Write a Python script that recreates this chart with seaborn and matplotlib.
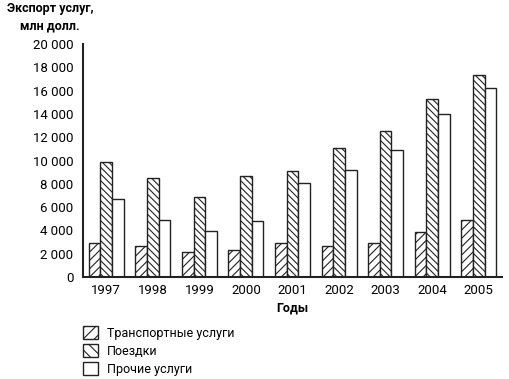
import matplotlib
matplotlib.use("Agg")
import matplotlib.pyplot as plt
import seaborn as sns
import pandas as pd
from matplotlib.patches import Patch
from matplotlib.ticker import FixedLocator, FuncFormatter

years = ["1997", "1998", "1999", "2000", "2001", "2002", "2003", "2004", "2005"]
transport = [2890, 2630, 2120, 2290, 2920, 2700, 2960, 3820, 4920]
travel = [9850, 8470, 6900, 8650, 9070, 11040, 12530, 15250, 17310]
other = [6700, 4890, 3920, 4830, 8070, 9160, 10900, 13970, 16250]
series_names = ["Транспортные услуги", "Поездки", "Прочие услуги"]
yticks = list(range(0, 20001, 2000))

df = pd.DataFrame({"Год": years * 3,
                   "Серия": [series_names[0]] * 9 + [series_names[1]] * 9 + [series_names[2]] * 9,
                   "Значение": transport + travel + other})

sns.set_style("white")
plt.rcParams['font.family'] = ['Roboto', 'DejaVu Sans']
plt.rcParams['hatch.linewidth'] = 0.8
plt.rcParams['hatch.color'] = '#222222'
plt.rcParams['text.color'] = 'black'
plt.rcParams['xtick.color'] = 'black'
plt.rcParams['ytick.color'] = 'black'
plt.rcParams['axes.labelcolor'] = 'black'

fig = plt.figure(figsize=(5.1, 3.79), dpi=100)
ax = fig.add_axes([83/510, 1 - 277/379, (502 - 83)/510, (277 - 44)/379])

sns.barplot(data=df, x="Год", y="Значение", hue="Серия", hue_order=series_names,
            palette=["white", "white", "white"], width=0.75, edgecolor="#222222",
            linewidth=1.0, ax=ax, legend=False, errorbar=None)

hatches = ["////", "\\\\\\\\\\", ""]
for cont, h in zip(ax.containers, hatches):
    for p in cont:
        p.set_hatch(h)
        p.set_facecolor("white")
        p.set_edgecolor("#222222")

ax.set_xlim(-0.5, 8.5)
ax.set_ylim(0, 20000)
ax.set_yticks(yticks)
ax.yaxis.set_major_formatter(FuncFormatter(lambda v, p: f"{int(v):,}".replace(",", " ")))
ax.xaxis.set_minor_locator(FixedLocator([i + 0.5 for i in range(9)]))
ax.tick_params(axis="x", which="major", length=0, pad=5, labelsize=9.5)
ax.tick_params(axis="x", which="minor", length=6, width=1.2, color="#222222", direction="out")
ax.tick_params(axis="y", length=5, width=1.2, color="#222222", direction="out", labelsize=9.5, pad=2)
for s in ["top", "right"]:
    ax.spines[s].set_visible(False)
for s in ["left", "bottom"]:
    ax.spines[s].set_linewidth(1.5)
    ax.spines[s].set_color("#222222")
ax.set_ylabel("")
ax.set_xlabel("Годы", fontsize=9, fontweight="bold", labelpad=3)

fig.text(50/510, 1 - 2/379, "Экспорт услуг,\nмлн долл.", ha="center", va="top",
         fontsize=9, fontweight="bold", linespacing=1.4)

handles = [Patch(facecolor="white", edgecolor="#222222", hatch=h, linewidth=1.0) for h in ["///", "\\\\\\", ""]]
fig.legend(handles, series_names, loc="upper left", bbox_to_anchor=(78/510, 1 - 321/379),
           frameon=False, fontsize=9, handlelength=1.2, handleheight=1.2,
           labelspacing=0.35, handletextpad=0.7, borderaxespad=0)

fig.savefig("out.png", dpi=100)
